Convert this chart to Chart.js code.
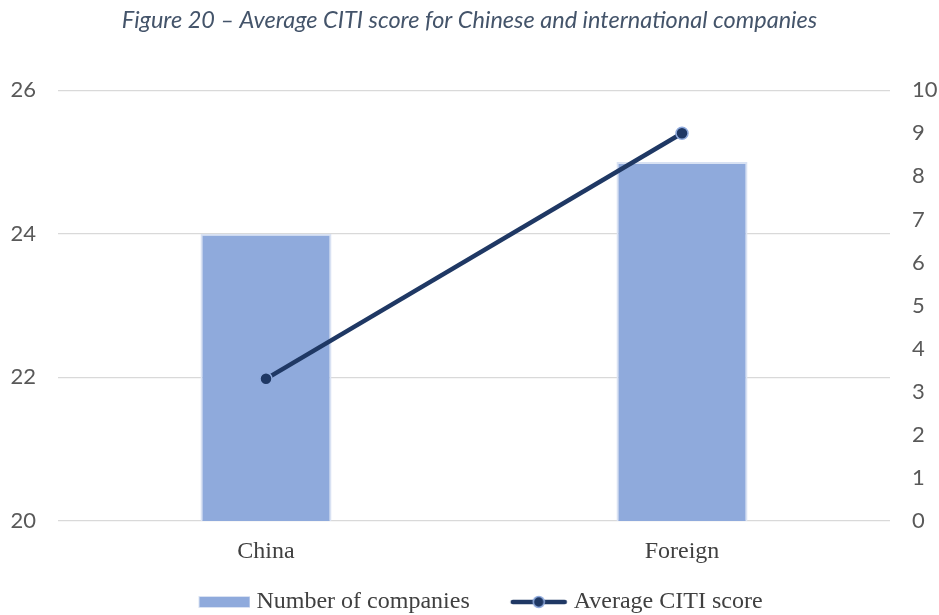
<!DOCTYPE html>
<html>
<head>
<meta charset="utf-8">
<script src="https://cdn.jsdelivr.net/npm/chart.js@4"></script>
<style>
  html, body { margin: 0; padding: 0; background: #ffffff; }
  #wrap { width: 939px; height: 615px; }
</style>
</head>
<body>
<div id="wrap"><canvas id="chart" width="939" height="615"></canvas></div>
<script>
// Company counts (left axis) vs average CITI score (right axis)
const CATEGORIES = ['China', 'Foreign'];
const COMPANY_COUNTS = [24, 25];
const CITI_SCORES = [3.3, 9.0];
const LEFT_TICKS = [20, 22, 24, 26];
const RIGHT_TICKS = [0, 1, 2, 3, 4, 5, 6, 7, 8, 9, 10];

const BAR_COLOR = '#8FAADC';
const BAR_EDGE = '#D9E2F3';
const LINE_COLOR = '#1F3864';
const TICK_COLOR = '#595959';
const TEXT_COLOR = '#404040';

// legend swatches: content sits flush right so it ends just before the label
const SW_W = 98, SW_H = 16;

function barSwatch() {
  const c = document.createElement('canvas');
  c.width = SW_W; c.height = SW_H;
  const g = c.getContext('2d');
  g.fillStyle = BAR_EDGE;
  g.fillRect(SW_W - 52, 2, 52, 12);
  g.fillStyle = BAR_COLOR;
  g.fillRect(SW_W - 51, 3, 50, 10);
  return c;
}

function lineSwatch() {
  const c = document.createElement('canvas');
  c.width = SW_W; c.height = SW_H;
  const g = c.getContext('2d');
  const x0 = SW_W - 58;
  g.strokeStyle = LINE_COLOR;
  g.lineWidth = 4.5;
  g.lineCap = 'round';
  g.beginPath();
  g.moveTo(x0 + 3, 8); g.lineTo(SW_W - 3, 8);
  g.stroke();
  g.beginPath();
  g.arc(x0 + 29, 8, 5.5, 0, Math.PI * 2);
  g.fillStyle = LINE_COLOR;
  g.fill();
  g.lineWidth = 1.5;
  g.strokeStyle = BAR_COLOR;
  g.stroke();
  return c;
}

const swatches = [barSwatch(), lineSwatch()];
// trailing gap after the last legend entry nudges the row a bit to the left
const legendTail = ['', '\u00A0\u00A0\u00A0'];

new Chart(document.getElementById('chart'), {
  data: {
    labels: CATEGORIES,
    datasets: [
      {
        type: 'bar',
        label: 'Number of companies',
        data: COMPANY_COUNTS,
        yAxisID: 'yLeft',
        backgroundColor: BAR_COLOR,
        borderColor: BAR_EDGE,
        borderWidth: 2,
        borderSkipped: false,
        categoryPercentage: 1,
        barPercentage: 0.315,
        order: 2
      },
      {
        type: 'line',
        label: 'Average CITI score',
        data: CITI_SCORES,
        yAxisID: 'yRight',
        borderColor: LINE_COLOR,
        borderWidth: 4.5,
        pointRadius: 6,
        pointBackgroundColor: LINE_COLOR,
        pointBorderColor: BAR_COLOR,
        pointBorderWidth: 1.5,
        tension: 0,
        order: 1
      }
    ]
  },
  options: {
    responsive: false,
    devicePixelRatio: 1,
    animation: false,
    layout: { padding: { left: 0, right: 0, top: 0, bottom: -9 } },
    plugins: {
      tooltip: { enabled: false },
      title: {
        display: true,
        text: 'Figure 20 – Average CITI score for Chinese and international companies',
        color: '#44546A',
        font: { family: 'Lato', size: 23.5, style: 'italic', weight: 'normal' },
        padding: { top: 6, bottom: 56 }
      },
      legend: {
        position: 'bottom',
        // empty title only adds a little space above the legend row
        title: { display: true, text: '', font: { size: 1 }, padding: { top: 4.5, bottom: 4.5 } },
        labels: {
          usePointStyle: true,
          pointStyleWidth: 86,
          padding: 6,
          color: TEXT_COLOR,
          font: { family: 'Liberation Serif', size: 24 },
          generateLabels: (chart) => chart.data.datasets.map((ds, i) => ({
            text: ds.label + legendTail[i],
            pointStyle: swatches[i],
            fillStyle: 'transparent',
            strokeStyle: 'transparent',
            lineWidth: 0,
            fontColor: TEXT_COLOR,
            datasetIndex: i,
            hidden: false
          }))
        }
      }
    },
    scales: {
      x: {
        grid: { display: false },
        border: { display: false },
        ticks: {
          color: TEXT_COLOR,
          padding: 8,
          font: { family: 'Liberation Serif', size: 24 }
        }
      },
      yLeft: {
        position: 'left',
        min: 20,
        max: 26,
        afterBuildTicks: (axis) => { axis.ticks = LEFT_TICKS.map(v => ({ value: v })); },
        afterFit: (axis) => { axis.width = 58; },
        grid: { color: '#D9D9D9', lineWidth: 1.3, drawTicks: false },
        border: { display: false },
        ticks: {
          color: TICK_COLOR,
          padding: 22,
          font: { family: 'Lato', size: 22 }
        }
      },
      yRight: {
        position: 'right',
        min: 0,
        max: 10,
        afterBuildTicks: (axis) => { axis.ticks = RIGHT_TICKS.map(v => ({ value: v })); },
        afterFit: (axis) => { axis.width = 49; },
        grid: { display: false, drawTicks: false },
        border: { display: false },
        ticks: {
          color: TICK_COLOR,
          padding: 22,
          font: { family: 'Lato', size: 22 }
        }
      }
    }
  }
});
</script>
</body>
</html>
